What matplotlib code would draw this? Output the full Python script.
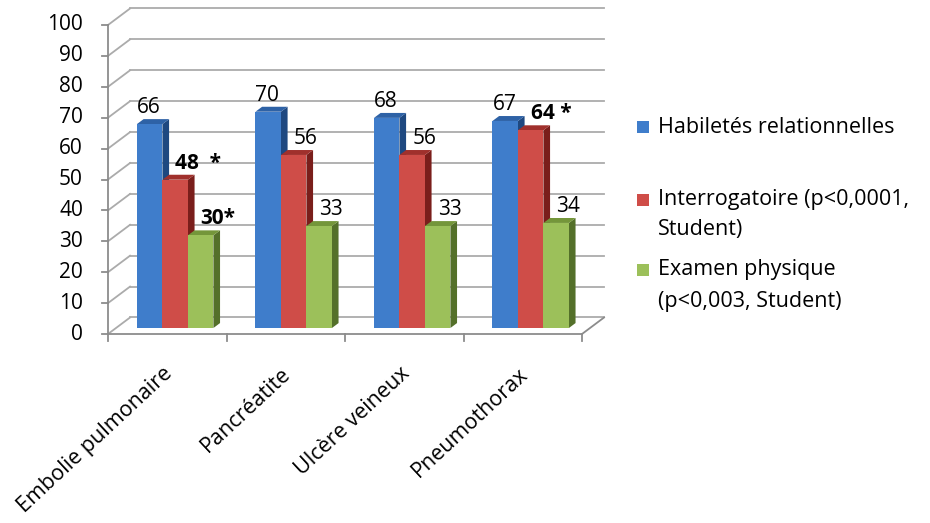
import matplotlib.pyplot as plt
from matplotlib.patches import Polygon, Rectangle

# data
categories = ['Embolie pulmonaire', 'Pancréatite', 'Ulcère veineux', 'Pneumothorax']
habiletes = [66, 70, 68, 67]
interrogatoire = [48, 56, 56, 64]
examen = [30, 33, 33, 34]
interro_labels = ['48  *', '56', '56', '64 *']
examen_labels = ['30*', '33', '33', '34']
interro_bold = [True, False, False, True]
examen_bold = [True, False, False, False]
legend_lines = [['Habiletés relationnelles'],
                ['Interrogatoire (p<0,0001,', 'Student)'],
                ['Examen physique', '(p<0,003, Student)']]
yticks = list(range(0, 101, 10))

plt.rcParams['font.family'] = ['Open Sans', 'DejaVu Sans']

# colours: front, side, top
colors = [('#3F7DCB', '#1E4880', '#2E62A6'),
          ('#CF4D48', '#7A1E1B', '#A0302C'),
          ('#9CC05A', '#54702A', '#74963A')]
grid_col = '#ABABAB'
axis_col = '#8C8C8C'

# pseudo-3D geometry (data units: 1 per category in x, value units in y)
WALL_DX, WALL_DY = 0.186, 5.34   # depth offset of back wall
BAR_X0, BAR_Y0 = 0.067, 1.94     # offset of the bar row
BAR_DX, BAR_DY = 0.056, 1.6      # depth of each bar
BW = 0.215                       # bar width

fig = plt.figure(figsize=(9.3, 5.23), dpi=100)
ax = fig.add_axes([0, 0, 1, 1])
ax.set_xlim(-108 / 118.5, (930 - 108) / 118.5)
ax.set_ylim((334 - 523) / 3.09, 334 / 3.09)
ax.axis('off')

n = len(categories)

# back wall / side wall grid
for v in yticks:
    ax.plot([WALL_DX, n + WALL_DX], [v + WALL_DY, v + WALL_DY], color=grid_col, lw=1.3, zorder=1)
    ax.plot([0, WALL_DX], [v, v + WALL_DY], color=grid_col, lw=1.3, zorder=1)
    ax.plot([-0.05, 0], [v, v], color=axis_col, lw=1.3, zorder=1)
    ax.text(-0.211, v, str(v), ha='right', va='center', fontsize=15, color='black')

# front axis and floor
ax.plot([0, 0], [0, 100], color=axis_col, lw=1.3, zorder=1)
ax.plot([0, n], [0, 0], color=axis_col, lw=1.3, zorder=1)
ax.plot([n, n + WALL_DX], [0, WALL_DY], color=axis_col, lw=1.3, zorder=1)
for i in range(n + 1):
    ax.plot([i, i], [0, -2.4], color=axis_col, lw=1.3, zorder=1)

series = [habiletes, interrogatoire, examen]
for i in range(n):
    for j, vals in enumerate(series):
        v = vals[i]
        front, side, top = colors[j]
        x0 = i + 0.5 - 1.5 * BW + j * BW + BAR_X0
        x1 = x0 + BW
        y0 = BAR_Y0
        y1 = BAR_Y0 + v
        ax.add_patch(Polygon([(x1, y0), (x1 + BAR_DX, y0 + BAR_DY),
                              (x1 + BAR_DX, y1 + BAR_DY), (x1, y1)],
                             closed=True, facecolor=side, edgecolor='none', zorder=3))
        ax.add_patch(Polygon([(x0, y1), (x0 + BAR_DX, y1 + BAR_DY),
                              (x1 + BAR_DX, y1 + BAR_DY), (x1, y1)],
                             closed=True, facecolor=top, edgecolor='none', zorder=3))
        ax.add_patch(Rectangle((x0, y0), BW, v, facecolor=front, edgecolor='none', zorder=3))

        if j == 0:
            ax.text(x0, y1 + 3.6, str(v), ha='left', va='baseline', fontsize=15, zorder=4)
        elif j == 1:
            ax.text(x0 + BW / 2, y1 + 3.6, interro_labels[i], ha='left', va='baseline',
                    fontsize=15, fontweight='bold' if interro_bold[i] else 'normal', zorder=4)
        else:
            ax.text(x0 + BW / 2, y1 + 3.6, examen_labels[i], ha='left', va='baseline',
                    fontsize=15, fontweight='bold' if examen_bold[i] else 'normal', zorder=4)

# category labels
for i, cat in enumerate(categories):
    ax.text(i + 0.46, -9.5, cat, rotation=43, rotation_mode='anchor',
            ha='right', va='top', fontsize=15.5)

# legend
line_y = [[127], [200, 230], [270, 301]]
for k, lines in enumerate(legend_lines):
    ys = line_y[k]
    fig.add_artist(Rectangle((637 / 930, 1 - (ys[0] + 6) / 523), 12 / 930, 12 / 523,
                             transform=fig.transFigure, facecolor=colors[k][0], edgecolor='none'))
    for txt, yy in zip(lines, ys):
        fig.text(658 / 930, 1 - yy / 523, txt, ha='left', va='center', fontsize=15.5)

fig.savefig('out.png', dpi=100)
